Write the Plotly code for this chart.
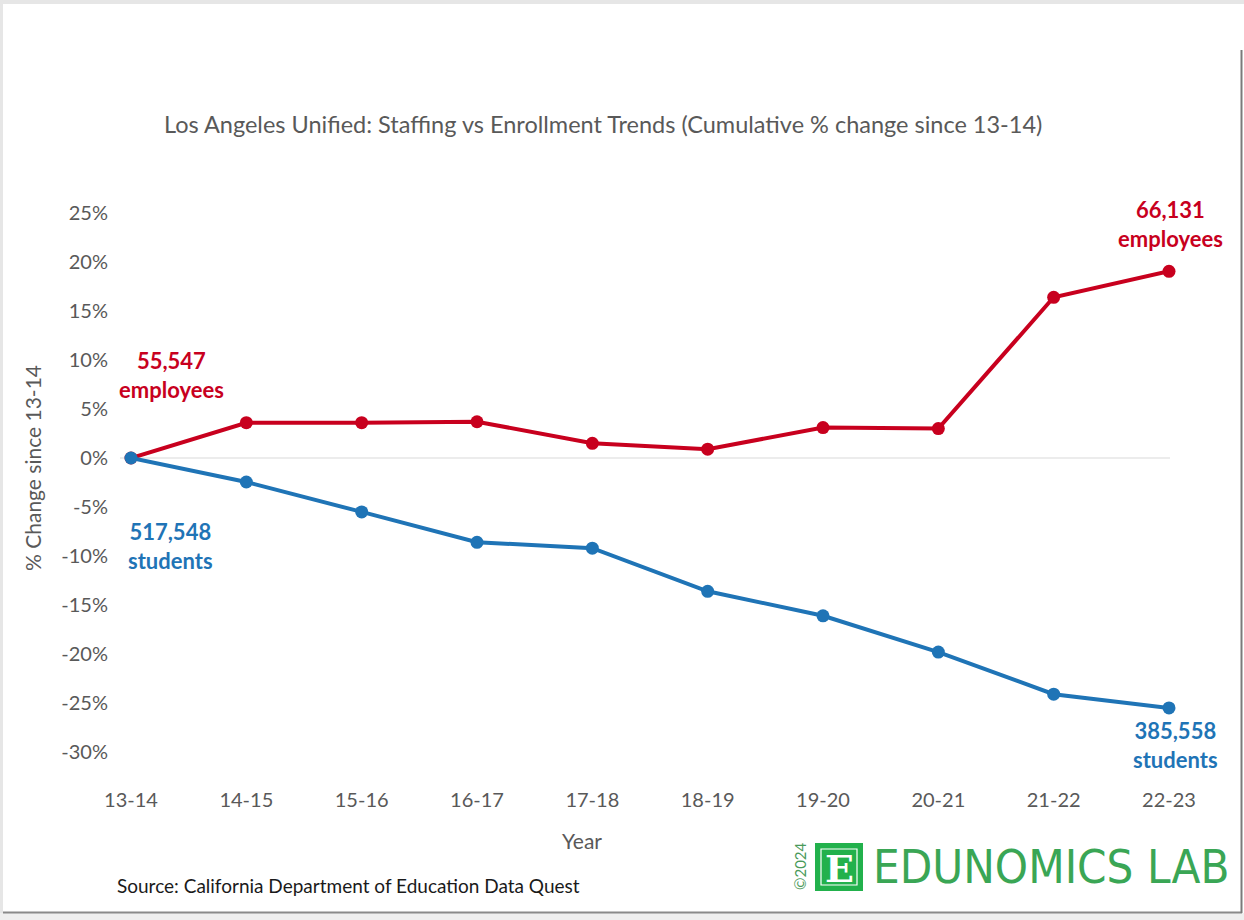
import plotly.graph_objects as go

years = ["13-14", "14-15", "15-16", "16-17", "17-18", "18-19", "19-20", "20-21", "21-22", "22-23"]
staff_pct = [0.0, 3.6, 3.6, 3.7, 1.5, 0.9, 3.1, 3.0, 16.4, 19.05]
enroll_pct = [0.0, -2.45, -5.5, -8.6, -9.2, -13.6, -16.1, -19.8, -24.1, -25.5]
y_ticks = [25, 20, 15, 10, 5, 0, -5, -10, -15, -20, -25, -30]
staff_start_label = "55,547<br>employees"
staff_end_label = "66,131<br>employees"
enroll_start_label = "517,548<br>students"
enroll_end_label = "385,558<br>students"

RED = "#c8001e"
BLUE = "#1f74b6"
GRAY = "#595959"
FONT = "Lato, 'Open Sans', sans-serif"

W, H = 1244, 920
L, R, T, B = 131, 1169, 213, 752


def px(x):
    return (x - L) / (R - L)


def py(y):
    return (B - y) / (B - T)


xs = list(range(len(years)))

fig = go.Figure()
fig.add_trace(go.Scatter(x=xs, y=staff_pct, mode="lines+markers",
                         line=dict(color=RED, width=4),
                         marker=dict(color=RED, size=13), cliponaxis=False,
                         hoverinfo="skip", showlegend=False))
fig.add_trace(go.Scatter(x=xs, y=enroll_pct, mode="lines+markers",
                         line=dict(color=BLUE, width=4),
                         marker=dict(color=BLUE, size=13), cliponaxis=False,
                         hoverinfo="skip", showlegend=False))

ann = []
lab_font = dict(family=FONT, size=22, color=RED, weight="bold")
ann.append(dict(x=xs[0], y=staff_pct[0], text=staff_start_label, showarrow=False,
                xshift=40, yshift=83, font=lab_font, align="center"))
ann.append(dict(x=xs[-1], y=staff_pct[-1], text=staff_end_label, showarrow=False,
                xshift=1, yshift=47, font=lab_font, align="center"))
lab_font_b = dict(family=FONT, size=22, color=BLUE, weight="bold")
ann.append(dict(x=xs[0], y=enroll_pct[0], text=enroll_start_label, showarrow=False,
                xshift=39, yshift=-88, font=lab_font_b, align="center"))
ann.append(dict(x=xs[-1], y=enroll_pct[-1], text=enroll_end_label, showarrow=False,
                xshift=6, yshift=-37, font=lab_font_b, align="center"))


def pann(x, y, text, size, color, xanchor="center", angle=0, family=FONT, weight="normal"):
    return dict(xref="paper", yref="paper", x=px(x), y=py(y), showarrow=False,
                xanchor=xanchor, yanchor="middle", text=text, textangle=angle,
                font=dict(family=family, size=size, color=color, weight=weight))


ann.append(pann(603, 124, "Los Angeles Unified: Staffing vs Enrollment Trends (Cumulative % change since 13-14)",
                23.5, GRAY))
ann.append(pann(32, 468, "% Change since 13-14", 21, GRAY, angle=-90))
ann.append(pann(582, 840, "Year", 21, GRAY))
ann.append(pann(115, 885, "Source: California Department of Education Data Quest", 19, "#1a1a1a",
                xanchor="left"))
# logo
GREEN = "#22b14c"
ann.append(pann(871, 866, "EDUNOMICS LAB", 47, "#3aa655", xanchor="left",
                family="'DejaVu Sans Condensed', 'Liberation Sans Narrow', Roboto, sans-serif"))
ann.append(pann(839, 868, "E", 38, "white", family="'DejaVu Serif', serif", weight="bold"))
ann.append(pann(800, 866, "©2024", 15, "#4a9a5a", angle=-90))

shapes = [
    # frame decorations
    dict(type="rect", xref="paper", yref="paper", x0=px(0), x1=px(W), y0=py(0), y1=py(4),
         fillcolor="#e6e6e6", line_width=0, layer="below"),
    dict(type="rect", xref="paper", yref="paper", x0=px(0), x1=px(3), y0=py(0), y1=py(H),
         fillcolor="#e6e6e6", line_width=0, layer="below"),
    dict(type="rect", xref="paper", yref="paper", x0=px(0), x1=px(W), y0=py(913), y1=py(H),
         fillcolor="#efefef", line_width=0, layer="below"),
    dict(type="line", xref="paper", yref="paper", x0=px(3), x1=px(1242), y0=py(912.5), y1=py(912.5),
         line=dict(color="#8a8a8a", width=2)),
    dict(type="line", xref="paper", yref="paper", x0=px(1241.5), x1=px(1241.5), y0=py(50), y1=py(913),
         line=dict(color="#7a7a7a", width=2)),
    # zero line
    dict(type="line", xref="paper", yref="y", x0=px(120), x1=px(1170), y0=0, y1=0,
         line=dict(color="#e6e6e6", width=1.5), layer="below"),
    # logo box
    dict(type="rect", xref="paper", yref="paper", x0=px(815), x1=px(863), y0=py(843), y1=py(891),
         fillcolor=GREEN, line_width=0, layer="below"),
    dict(type="rect", xref="paper", yref="paper", x0=px(821), x1=px(857), y0=py(849), y1=py(885),
         fillcolor="rgba(0,0,0,0)", line=dict(color="white", width=1.2), layer="below"),
]

fig.update_layout(
    width=W, height=H,
    margin=dict(l=L, r=W - R, t=T, b=H - B, pad=0),
    paper_bgcolor="white", plot_bgcolor="rgba(0,0,0,0)",
    annotations=ann, shapes=shapes,
    xaxis=dict(range=[0, 9], tickvals=xs, ticktext=years, showgrid=False, zeroline=False,
               showline=False, ticks="", tickfont=dict(family=FONT, size=20, color=GRAY),
               ticklabelstandoff=34),
    yaxis=dict(range=[-30, 25], tickvals=y_ticks, ticktext=[f"{v}%" for v in y_ticks],
               showgrid=False, zeroline=False, showline=False, ticks="",
               tickfont=dict(family=FONT, size=20, color=GRAY), ticklabelstandoff=22),
    font=dict(family=FONT),
)

fig.write_html("out.html", config={"displayModeBar": False},
               post_script="document.body.style.margin='0';")
